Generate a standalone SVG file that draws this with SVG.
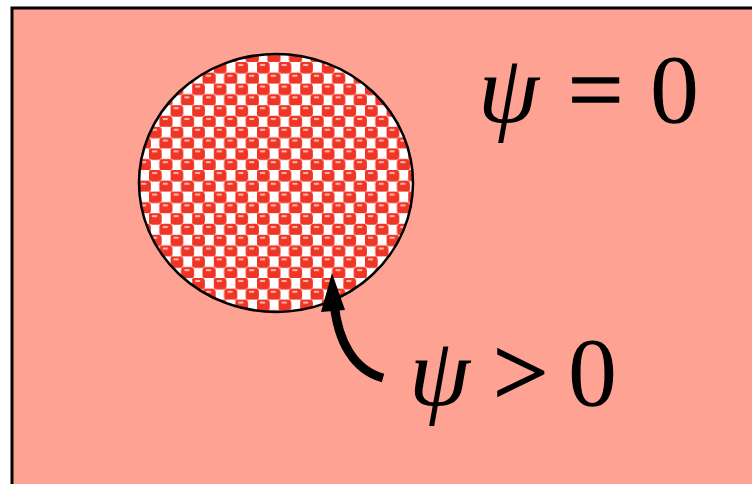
<svg xmlns="http://www.w3.org/2000/svg" width="752" height="484" viewBox="0 0 752 484">
<defs>
<pattern id="chk" patternUnits="userSpaceOnUse" x="149" y="170" width="21.6" height="21.6">
<rect width="21.6" height="21.6" fill="#ffffff"/>
<rect x="-0.5" y="-0.3" width="13.2" height="11.8" rx="3.5" fill="#ef3526"/>
<rect x="10.3" y="10.5" width="13.2" height="11.8" rx="3.5" fill="#ef3526"/>
<rect x="-11.3" y="10.5" width="13.2" height="11.8" rx="3.5" fill="#ef3526"/>
<rect x="3" y="2" width="5" height="2" fill="#ffb8ae"/>
<rect x="13.8" y="12.8" width="5" height="2" fill="#ffb8ae"/>
</pattern>
<style>
.m{font-family:"Liberation Serif","Times New Roman",serif;fill:#000}
.i{font-style:italic}
</style>
</defs>
<rect x="0" y="0" width="752" height="484" fill="#ffffff"/>
<rect id="bg" x="12" y="8" width="760" height="500" fill="#fea394" stroke="#000" stroke-width="3"/>
<g id="region">
<ellipse cx="276" cy="183" rx="137" ry="129" fill="url(#chk)" stroke="#000" stroke-width="2.5"/>
</g>
<g id="connectors">
<path d="M383,378 C354,370 338,342 334,303" fill="none" stroke="#000" stroke-width="9"/>
<polygon points="332,273 321,312 345,310" fill="#000"/>
</g>
<g id="label-outside">
<text class="m i" x="478" y="122" font-size="98">ψ</text>
<text class="m" x="568" y="122" font-size="98" stroke="#000" stroke-width="1.5">=</text>
<text class="m" x="650" y="122" font-size="98">0</text>
</g>
<g id="label-inside">
<text class="m i" x="409" y="405" font-size="98">ψ</text>
<text class="m" x="493" y="405" font-size="98" stroke="#000" stroke-width="1.5">&gt;</text>
<text class="m" x="568" y="405" font-size="98">0</text>
</g>
</svg>
